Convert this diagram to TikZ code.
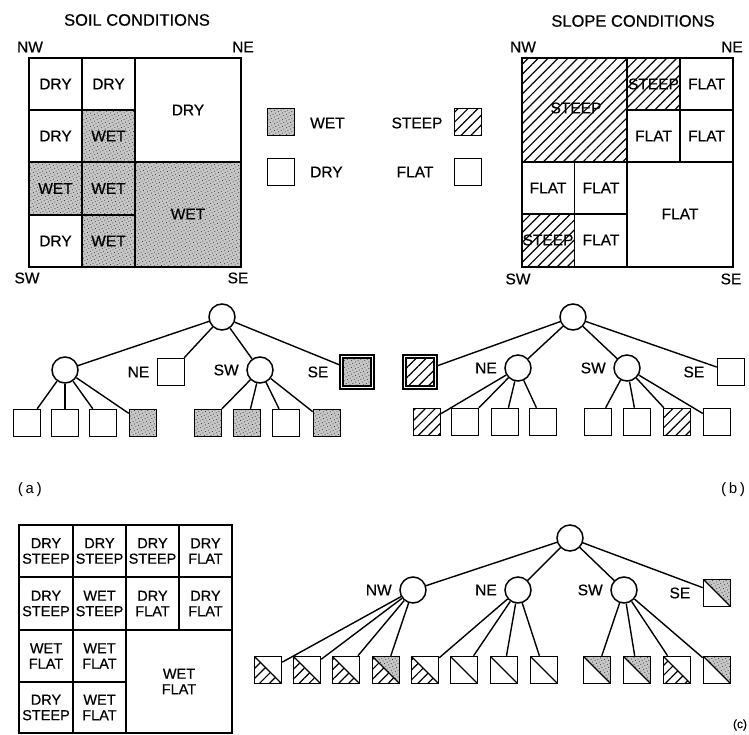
\documentclass[tikz,border=0pt]{standalone}
\usepackage{fontspec}
\setmainfont{Liberation Sans}[FakeBold=0.5]
\setmonofont{Liberation Mono}
\usepackage{tikz}
\usetikzlibrary{patterns.meta}
\tikzset{
    % Fills - stipple for wet, hatching for steep
    wetfill/.style={
        preaction={fill=black!22},
        pattern={Dots[radius=0.55pt, distance=3pt, angle=27]},
        pattern color=black!80
    },
    steepfill/.style={
        pattern={Lines[angle=45, distance=7pt, line width=1.2pt]},
        pattern color=black
    },
    dryfill/.style={fill=white},
    flatfill/.style={fill=white},
    % Maps
    mapline/.style={line width=1.8pt, line cap=rect},
    title/.style={font=\fontsize{16.5}{18}\selectfont},
    cell/.style={font=\fontsize{15.5}{17}\selectfont, inner sep=0pt},
    combo/.style={align=center, inner sep=0pt, font=\fontsize{14.5}{15.5}\selectfont},
    panel/.style={font=\ttfamily\fontsize{15}{17}\selectfont},
    % Tree nodes
    splitnode/.style={circle, draw, line width=1.5pt, minimum size=26pt, inner sep=0pt},
    leaf/.style={rectangle, draw, line width=1.5pt, minimum size=27pt, inner sep=0pt},
    bigleaf/.style={leaf, double, double distance=1.8pt, line width=1.3pt, minimum size=31pt},
    mixleaf/.style 2 args={
        leaf,
        path picture={
            \fill[#1] (path picture bounding box.north west) -- (path picture bounding box.north east)
                -- (path picture bounding box.south east) -- cycle;
            \fill[#2] (path picture bounding box.north west) -- (path picture bounding box.south west)
                -- (path picture bounding box.south east) -- cycle;
            \draw[line width=1.4pt] (path picture bounding box.north west) -- (path picture bounding box.south east);
        }
    },
    quad/.style={label={[font=\fontsize{15.5}{17}\selectfont, xshift=-4pt]left:#1}},
    quadfar/.style={label={[font=\fontsize{15.5}{17}\selectfont, xshift=-9pt]left:#1}},
    branch/.style={line width=1.4pt}
}
\begin{document}
\begin{tikzpicture}[x=1pt, y=-1pt]
    \useasboundingbox (0,0) rectangle (749,735);

    % Soil map
    \node[title] (soiltitle) at (137,20) {SOIL CONDITIONS};
    \fill[wetfill] (82,110) rectangle (135,162);
    \fill[wetfill] (29,162) rectangle (135,215);
    \fill[wetfill] (82,215) rectangle (135,267);
    \fill[wetfill] (135,162) rectangle (241,267);
    \draw[mapline] (29,58) rectangle (241,267);
    \draw[mapline] (135,58) -- (135,267);
    \draw[mapline] (29,162) -- (241,162);
    \draw[mapline] (82,58) -- (82,267);
    \draw[mapline] (29,110) -- (135,110);
    \draw[mapline] (29,215) -- (135,215);
    \node[cell] (soil1) at (55.5,84) {DRY};
    \node[cell] (soil2) at (108.5,84) {DRY};
    \node[cell] (soil3) at (55.5,136) {DRY};
    \node[cell] (soil4) at (108.5,136) {WET};
    \node[cell] (soil5) at (188,110) {DRY};
    \node[cell] (soil6) at (55.5,188.5) {WET};
    \node[cell] (soil7) at (108.5,188.5) {WET};
    \node[cell] (soil8) at (55.5,241) {DRY};
    \node[cell] (soil9) at (108.5,241) {WET};
    \node[cell] (soil10) at (188,214) {WET};
    \node[cell] (soilnw) at (30,47) {NW};
    \node[cell] (soilne) at (243,47) {NE};
    \node[cell] (soilsw) at (27,278) {SW};
    \node[cell] (soilse) at (238,278) {SE};

    % Key
    \node[leaf, wetfill] (keywet) at (281,122) {};
    \node[cell, anchor=west] (keywettext) at (310,123) {WET};
    \node[leaf] (keydry) at (281,172) {};
    \node[cell, anchor=west] (keydrytext) at (310,172) {DRY};
    \node[leaf, steepfill] (keysteep) at (468,122) {};
    \node[cell] (keysteeptext) at (417,123) {STEEP};
    \node[leaf] (keyflat) at (468,172) {};
    \node[cell] (keyflattext) at (415,172) {FLAT};

    % Slope map
    \node[title] (slopetitle) at (633,21) {SLOPE CONDITIONS};
    \fill[steepfill] (522,58) rectangle (627,162);
    \fill[steepfill] (627,58) rectangle (680,110);
    \fill[steepfill] (522,214) rectangle (574.5,267);
    \draw[mapline] (522,58) rectangle (733,267);
    \draw[mapline] (627,58) -- (627,267);
    \draw[mapline] (522,162) -- (733,162);
    \draw[mapline] (680,58) -- (680,162);
    \draw[mapline] (627,110) -- (733,110);
    \draw[mapline] (574.5,162) -- (574.5,267);
    \draw[mapline] (522,214) -- (627,214);
    \node[cell] (slope1) at (576,108) {STEEP};
    \node[cell] (slope2) at (653.5,84) {STEEP};
    \node[cell] (slope3) at (706.5,84) {FLAT};
    \node[cell] (slope4) at (653.5,136) {FLAT};
    \node[cell] (slope5) at (706.5,136) {FLAT};
    \node[cell] (slope6) at (548,188) {FLAT};
    \node[cell] (slope7) at (601,188) {FLAT};
    \node[cell] (slope8) at (548,240) {STEEP};
    \node[cell] (slope9) at (601,240) {FLAT};
    \node[cell] (slope10) at (680,214) {FLAT};
    \node[cell] (slopenw) at (523,47) {NW};
    \node[cell] (slopene) at (732,47) {NE};
    \node[cell] (slopesw) at (518,279) {SW};
    \node[cell] (slopese) at (731,279) {SE};

    % Soil tree (a)
    \node[splitnode] (rootA) at (222,317) {};
    \node[splitnode] (nwA) at (65,370) {};
    \node[leaf, quad=NE] (neA) at (171,372) {};
    \node[splitnode, quad=SW] (swA) at (260,370) {};
    \node[bigleaf, wetfill, quadfar=SE] (seA) at (357,372) {};
    \node[leaf] (a1) at (27,423) {};
    \node[leaf] (a2) at (65,423) {};
    \node[leaf] (a3) at (103,423) {};
    \node[leaf, wetfill] (a4) at (143,423) {};
    \node[leaf, wetfill] (a5) at (208,423) {};
    \node[leaf, wetfill] (a6) at (247,423) {};
    \node[leaf] (a7) at (286,423) {};
    \node[leaf, wetfill] (a8) at (327,423) {};
    \draw[branch] (rootA) -- (nwA);
    \draw[branch] (rootA) -- (neA);
    \draw[branch] (rootA) -- (swA);
    \draw[branch] (rootA) -- (seA);
    \draw[branch] (nwA) -- (a1);
    \draw[branch] (nwA) -- (a2);
    \draw[branch] (nwA) -- (a3);
    \draw[branch] (nwA) -- (a4);
    \draw[branch] (swA) -- (a5);
    \draw[branch] (swA) -- (a6);
    \draw[branch] (swA) -- (a7);
    \draw[branch] (swA) -- (a8);
    \node[panel] (labela) at (30,490) {(a)};

    % Slope tree (b)
    \node[splitnode] (rootB) at (573,317) {};
    \node[bigleaf, steepfill] (nwB) at (420,372) {};
    \node[splitnode, quad=NE] (neB) at (518,368) {};
    \node[splitnode, quad=SW] (swB) at (627,368) {};
    \node[leaf, quadfar=SE] (seB) at (731,372) {};
    \node[leaf, steepfill] (b1) at (427,422) {};
    \node[leaf] (b2) at (465,422) {};
    \node[leaf] (b3) at (505,422) {};
    \node[leaf] (b4) at (543,422) {};
    \node[leaf] (b5) at (598,422) {};
    \node[leaf] (b6) at (637,422) {};
    \node[leaf, steepfill] (b7) at (677,422) {};
    \node[leaf] (b8) at (717,422) {};
    \draw[branch] (rootB) -- (nwB);
    \draw[branch] (rootB) -- (neB);
    \draw[branch] (rootB) -- (swB);
    \draw[branch] (rootB) -- (seB);
    \draw[branch] (neB) -- (b1);
    \draw[branch] (neB) -- (b2);
    \draw[branch] (neB) -- (b3);
    \draw[branch] (neB) -- (b4);
    \draw[branch] (swB) -- (b5);
    \draw[branch] (swB) -- (b6);
    \draw[branch] (swB) -- (b7);
    \draw[branch] (swB) -- (b8);
    \node[panel] (labelb) at (733,490) {(b)};

    % Combined map (c)
    \draw[mapline] (19,525) rectangle (232,733);
    \draw[mapline] (126,525) -- (126,733);
    \draw[mapline] (19,630) -- (232,630);
    \draw[mapline] (73,525) -- (73,733);
    \draw[mapline] (179,525) -- (179,630);
    \draw[mapline] (19,577) -- (232,577);
    \draw[mapline] (19,682) -- (126,682);
    \node[combo] (mix1) at (46,551) {DRY\\STEEP};
    \node[combo] (mix2) at (99.5,551) {DRY\\STEEP};
    \node[combo] (mix3) at (152.5,551) {DRY\\STEEP};
    \node[combo] (mix4) at (205.5,551) {DRY\\FLAT};
    \node[combo] (mix5) at (46,603.5) {DRY\\STEEP};
    \node[combo] (mix6) at (99.5,603.5) {WET\\STEEP};
    \node[combo] (mix7) at (152.5,603.5) {DRY\\FLAT};
    \node[combo] (mix8) at (205.5,603.5) {DRY\\FLAT};
    \node[combo] (mix9) at (46,656) {WET\\FLAT};
    \node[combo] (mix10) at (99.5,656) {WET\\FLAT};
    \node[combo] (mix11) at (46,707.5) {DRY\\STEEP};
    \node[combo] (mix12) at (99.5,707.5) {WET\\FLAT};
    \node[combo] (mix13) at (179,681.5) {WET\\FLAT};

    % Combined tree (c)
    \node[splitnode] (rootC) at (570,538) {};
    \node[splitnode, quad=NW] (nwC) at (413,590) {};
    \node[splitnode, quad=NE] (neC) at (518,590) {};
    \node[splitnode, quad=SW] (swC) at (624,590) {};
    \node[mixleaf={wetfill}{flatfill}, quadfar=SE] (seC) at (717,593) {};
    \node[mixleaf={dryfill}{steepfill}] (c1) at (268,670) {};
    \node[mixleaf={dryfill}{steepfill}] (c2) at (307,670) {};
    \node[mixleaf={dryfill}{steepfill}] (c3) at (346,670) {};
    \node[mixleaf={wetfill}{steepfill}] (c4) at (386,670) {};
    \node[mixleaf={dryfill}{steepfill}] (c5) at (425,670) {};
    \node[mixleaf={dryfill}{flatfill}] (c6) at (464,670) {};
    \node[mixleaf={dryfill}{flatfill}] (c7) at (504,670) {};
    \node[mixleaf={dryfill}{flatfill}] (c8) at (544,670) {};
    \node[mixleaf={wetfill}{flatfill}] (c9) at (597,670) {};
    \node[mixleaf={wetfill}{flatfill}] (c10) at (637,670) {};
    \node[mixleaf={dryfill}{steepfill}] (c11) at (677,670) {};
    \node[mixleaf={wetfill}{flatfill}] (c12) at (717,670) {};
    \draw[branch] (rootC) -- (nwC);
    \draw[branch] (rootC) -- (neC);
    \draw[branch] (rootC) -- (swC);
    \draw[branch] (rootC) -- (seC);
    \draw[branch] (nwC) -- (c1);
    \draw[branch] (nwC) -- (c2);
    \draw[branch] (nwC) -- (c3);
    \draw[branch] (nwC) -- (c4);
    \draw[branch] (neC) -- (c5);
    \draw[branch] (neC) -- (c6);
    \draw[branch] (neC) -- (c7);
    \draw[branch] (neC) -- (c8);
    \draw[branch] (swC) -- (c9);
    \draw[branch] (swC) -- (c10);
    \draw[branch] (swC) -- (c11);
    \draw[branch] (swC) -- (c12);
    \node[font=\fontsize{12}{14}\selectfont] (labelc) at (740,725) {(c)};
\end{tikzpicture}
\end{document}
